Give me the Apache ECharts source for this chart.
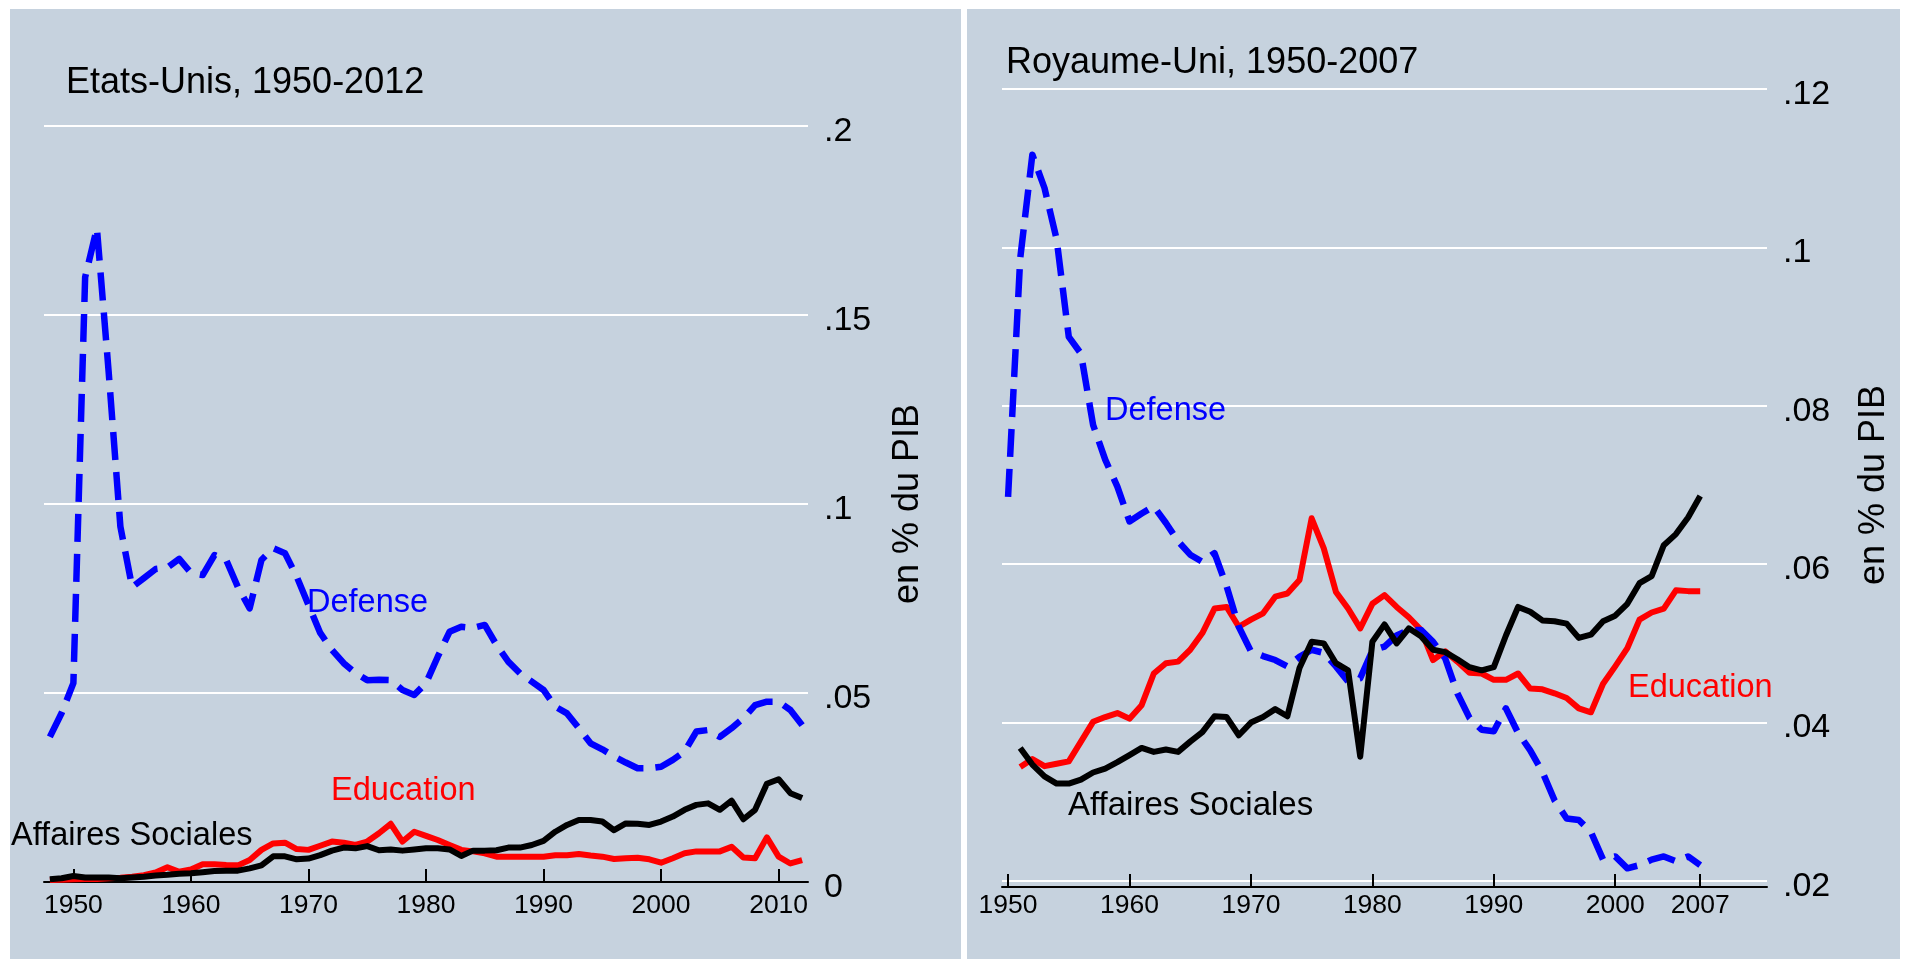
<!DOCTYPE html>
<html>
<head>
<meta charset="utf-8">
<title>Dépenses publiques en % du PIB</title>
<script src="https://cdn.jsdelivr.net/npm/echarts@6.0.0/dist/echarts.min.js"></script>
<style>
    html, body { margin: 0; padding: 0; background: #fff; }
    #main { width: 1907px; height: 959px; }
</style>
</head>
<body>
<div id="main"></div>
<script>
    // Etats-Unis, 1948-2012
    var usYears = [];
    for (var y = 1948; y <= 2012; y++) usYears.push(y);
    var usDefense = [
        0.0384, 0.0447, 0.0526, 0.160, 0.173, 0.135, 0.094, 0.078, 0.0804, 0.0828,
        0.0832, 0.0855, 0.0818, 0.0812, 0.0865, 0.0852, 0.078, 0.0724, 0.0852, 0.0883,
        0.087, 0.0808, 0.0733, 0.0659, 0.0614, 0.0579, 0.0553, 0.0534, 0.0535, 0.0534,
        0.0508, 0.0495, 0.0526, 0.0596, 0.0662, 0.0675, 0.0672, 0.068, 0.0627, 0.0583,
        0.0552, 0.053, 0.0508, 0.0464, 0.0446, 0.0407, 0.0367, 0.0351, 0.0332, 0.0316,
        0.0301, 0.0301, 0.0305, 0.0323, 0.0345, 0.0398, 0.0402, 0.0384, 0.0407, 0.0433,
        0.0468, 0.0477, 0.0477, 0.0455, 0.0415
    ];
    var usEducation = [
        0.0005, 0.0006, 0.0007, 0.0008, 0.0008, 0.0010, 0.0011, 0.0014, 0.0018, 0.0025,
        0.0039, 0.0027, 0.0033, 0.0047, 0.0047, 0.0045, 0.0044, 0.0058, 0.0085, 0.0102,
        0.0104, 0.0087, 0.0085, 0.0096, 0.0107, 0.0104, 0.0098, 0.0107, 0.0129, 0.0154,
        0.0107, 0.0133, 0.0122, 0.0111, 0.0098, 0.0085, 0.0081, 0.0076, 0.0067, 0.0067,
        0.0067, 0.0067, 0.0067, 0.0071, 0.0071, 0.0074, 0.0070, 0.0067, 0.0061, 0.0063,
        0.0064, 0.0060, 0.0051, 0.0063, 0.0076, 0.0081, 0.0081, 0.0081, 0.0093, 0.0065,
        0.0063, 0.0118, 0.0067, 0.0049, 0.0058
    ];
    var usSocial = [
        0.0007, 0.0010, 0.0016, 0.0012, 0.0012, 0.0012, 0.0010, 0.0012, 0.0014, 0.0017,
        0.0019, 0.0022, 0.0023, 0.0026, 0.0029, 0.0030, 0.0030, 0.0036, 0.0044, 0.0068,
        0.0068, 0.0060, 0.0062, 0.0071, 0.0083, 0.0091, 0.0089, 0.0095, 0.0084, 0.0086,
        0.0083, 0.0086, 0.0089, 0.0089, 0.0086, 0.0069, 0.0083, 0.0083, 0.0084, 0.0091,
        0.0091, 0.0098, 0.0109, 0.0133, 0.0151, 0.0164, 0.0164, 0.0160, 0.0137, 0.0155,
        0.0154, 0.0151, 0.0160, 0.0173, 0.0191, 0.0204, 0.0208, 0.0191, 0.0215, 0.0166,
        0.0191, 0.0260, 0.0272, 0.0235, 0.0222
    ];
    var usTicks = [1950, 1960, 1970, 1980, 1990, 2000, 2010];

    // Royaume-Uni, 1950-2007
    var ukYears = [];
    for (var y2 = 1950; y2 <= 2007; y2++) ukYears.push(y2);
    var ukDefense = [
        0.0685, 0.0986, 0.1117, 0.1075, 0.101, 0.0887, 0.0866, 0.0776, 0.0732, 0.0698,
        0.0654, 0.0664, 0.0673, 0.0652, 0.0629, 0.0612, 0.0603, 0.0614, 0.0572, 0.0521,
        0.049, 0.0484, 0.0479, 0.0471, 0.0483, 0.0492, 0.0488, 0.0471, 0.0452, 0.0456,
        0.0491, 0.0496, 0.051, 0.0517, 0.0517, 0.0502, 0.0481, 0.0437, 0.0406, 0.0391,
        0.0389, 0.0418, 0.0387, 0.0365, 0.0338, 0.0302, 0.0279, 0.0277, 0.0262, 0.0227,
        0.0231, 0.0216, 0.022, 0.0227, 0.0231, 0.0225, 0.0231, 0.022
    ];
    var ukEducation = [
        null, 0.0344, 0.0354, 0.0345, 0.0348, 0.0351, 0.0376, 0.0401, 0.0407, 0.0412,
        0.0405, 0.0422, 0.0462, 0.0475, 0.0477, 0.0492, 0.0513, 0.0544, 0.0546, 0.0521,
        0.053, 0.0538, 0.0559, 0.0563, 0.058, 0.0658, 0.062, 0.0565, 0.0544, 0.0519,
        0.055, 0.0561, 0.0546, 0.0533, 0.0517, 0.0479, 0.049, 0.0477, 0.0463, 0.0462,
        0.0454, 0.0454, 0.0462, 0.0443, 0.0442, 0.0437, 0.0431, 0.0418, 0.0413, 0.0449,
        0.0471, 0.0494, 0.053, 0.0539, 0.0544, 0.0567, 0.0566, 0.0566
    ];
    var ukSocial = [
        null, 0.0368, 0.0347, 0.0332, 0.0323, 0.0323, 0.0328, 0.0337, 0.0342, 0.035,
        0.0359, 0.0368, 0.0363, 0.0366, 0.0363, 0.0376, 0.0388, 0.0408, 0.0407, 0.0384,
        0.04, 0.0407, 0.0417, 0.0408, 0.0469, 0.0502, 0.05, 0.0475, 0.0466, 0.0357,
        0.0502, 0.0524, 0.05, 0.0519, 0.0509, 0.0492, 0.0489, 0.048, 0.047, 0.0466,
        0.047, 0.051, 0.0546, 0.054, 0.0529, 0.0528, 0.0525, 0.0507, 0.0511, 0.0528,
        0.0535, 0.055, 0.0576, 0.0585, 0.0624, 0.0638, 0.0659, 0.0686
    ];
    var ukTicks = [1950, 1960, 1970, 1980, 1990, 2000, 2007];

    var bg = '#c6d2de';
    var font = '"Liberation Sans", Arial, Helvetica, sans-serif';

    function pairs(years, vals) {
        return years.map(function (yr, i) { return [yr, vals[i]]; });
    }
    // .2 / .15 / 0 : pas de zéro initial, comme Stata
    function fmtY(v) {
        var s = v === 0 ? '0' : String(+v.toFixed(3)).replace(/^0/, '');
        return '{t|' + s + '}';
    }
    function txt(x, y, s, size, color) {
        return {
            type: 'text', left: x, top: y - size / 2 + 3, z: 100,
            style: {text: s, font: size + 'px ' + font, fill: color}
        };
    }
    function xAx(idx, min, max, ticks, off) {
        return {
            gridIndex: idx, type: 'value', min: min, max: max, offset: off,
            splitLine: {show: false},
            axisLine: {lineStyle: {color: '#000', width: 2}},
            axisTick: {inside: true, length: 13, customValues: ticks, lineStyle: {color: '#000', width: 2}},
            axisLabel: {
                customValues: ticks, margin: 5, fontSize: 26.5, color: '#000', fontFamily: font,
                formatter: function (v) { return String(v); }
            }
        };
    }
    function yAx(idx, min, max, step, gap) {
        return {
            gridIndex: idx, type: 'value', position: 'right', min: min, max: max, interval: step,
            axisLine: {show: false},
            axisTick: {show: false},
            splitLine: {lineStyle: {color: '#fff', width: 2.2}},
            axisLabel: {
                formatter: fmtY, margin: 16,
                rich: {t: {fontSize: 34, color: '#000', fontFamily: font, padding: [11, 0, 0, 0]}}
            },
            name: 'en % du PIB', nameLocation: 'middle', nameRotate: 90, nameGap: gap,
            nameTextStyle: {fontSize: 36, color: '#000', fontFamily: font}
        };
    }
    function line(name, idx, data, color, width, dash) {
        return {
            name: name, type: 'line', xAxisIndex: idx, yAxisIndex: idx,
            data: data, symbol: 'none', connectNulls: false,
            lineStyle: {color: color, width: width, type: dash || 'solid', cap: 'butt', join: 'round'}
        };
    }

    var chart = echarts.init(document.getElementById('main'));
    var option = {
        animation: false,
        backgroundColor: '#fff',
        textStyle: {fontFamily: font},
        graphic: [
            {type: 'rect', left: 10, top: 9, z: -10, shape: {width: 951, height: 950}, style: {fill: bg}},
            {type: 'rect', left: 967, top: 9, z: -10, shape: {width: 933, height: 950}, style: {fill: bg}},
            txt(66, 80, 'Etats-Unis, 1950-2012', 36, '#000'),
            txt(1006, 60, 'Royaume-Uni, 1950-2007', 36, '#000'),
            txt(307, 600, 'Defense', 32.5, '#0000ff'),
            txt(331, 788, 'Education', 32.5, '#ff0000'),
            txt(11, 833, 'Affaires Sociales', 32.5, '#000'),
            txt(1105, 408, 'Defense', 32.5, '#0000ff'),
            txt(1628, 685, 'Education', 32.5, '#ff0000'),
            txt(1068, 803, 'Affaires Sociales', 33, '#000')
        ],
        grid: [
            {left: 44, top: 126, width: 764, height: 756},
            {left: 1002, top: 89, width: 765, height: 792}
        ],
        xAxis: [
            xAx(0, 1947.5, 2012.5, usTicks, 5),
            xAx(1, 1949.5, 2012.5, ukTicks, 6)
        ],
        yAxis: [
            yAx(0, 0, 0.2, 0.05, 82),
            yAx(1, 0.02, 0.12, 0.02, 89)
        ],
        series: [
            line('Education', 0, pairs(usYears, usEducation), '#ff0000', 6),
            line('Defense', 0, pairs(usYears, usDefense), '#0000ff', 6.5, [28, 12]),
            line('Affaires Sociales', 0, pairs(usYears, usSocial), '#000', 6),
            line('Education', 1, pairs(ukYears, ukEducation), '#ff0000', 6),
            line('Defense', 1, pairs(ukYears, ukDefense), '#0000ff', 6.5, [28, 12]),
            line('Affaires Sociales', 1, pairs(ukYears, ukSocial), '#000', 6)
        ]
    };
    chart.setOption(option);
</script>
</body>
</html>
